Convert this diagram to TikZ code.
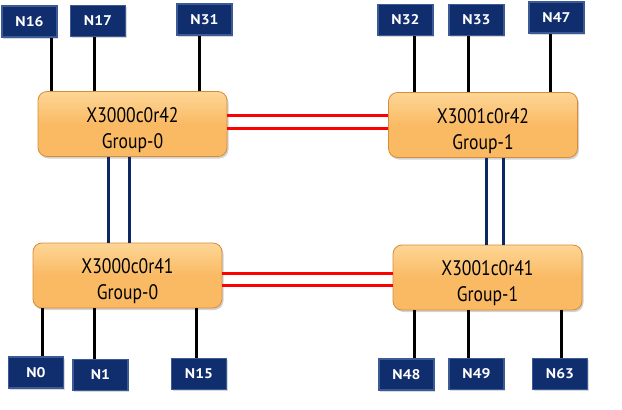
\documentclass[tikz,border=0pt]{standalone}
\usepackage{fontspec}
\setmainfont{PT Sans}
\newfontfamily\routerfont[FakeStretch=0.84]{PT Sans}
\newfontfamily\nodefont[FakeStretch=1.12]{PT Sans}
\usepackage{tikz}
\usetikzlibrary{calc, positioning, shadows}
\usepackage{xcolor}
\definecolor{routerFill}{RGB}{250, 186, 100}
\definecolor{routerTop}{RGB}{253, 214, 150}
\definecolor{routerEdge}{RGB}{215, 140, 55}
\definecolor{nodeFill}{RGB}{16, 45, 110}
\definecolor{nodeEdge}{RGB}{60, 90, 150}
\definecolor{globalLink}{RGB}{255, 0, 0}
\definecolor{localLink}{RGB}{12, 40, 100}

\begin{document}
\begin{tikzpicture}[x=1pt, y=-1pt,
    router/.style={rectangle, rounded corners=9pt, minimum width=189pt, minimum height=65pt,
      top color=routerTop, bottom color=routerFill, middle color=routerFill,
      draw=routerEdge, line width=0.8pt, align=center, font=\routerfont\fontsize{21}{26}\selectfont,
      text height=50pt, text depth=2pt,
      drop shadow={shadow xshift=1.5pt, shadow yshift=-2pt, opacity=0.35}},
    computenode/.style={rectangle, minimum width=55pt, minimum height=31pt, fill=nodeFill,
      draw=nodeEdge, line width=1.6pt, text=white, font=\nodefont\fontsize{14}{16}\selectfont\bfseries,
      drop shadow={shadow xshift=1pt, shadow yshift=-1.5pt, opacity=0.3}},
    nodelink/.style={line width=3pt, black},
    glink/.style={line width=3pt, globalLink},
    llink/.style={line width=3pt, localLink}]
  \useasboundingbox (0, 0) rectangle (622, 410);

  % Heights of the paired links
  \coordinate (r42a) at (0, 115);
  \coordinate (r42b) at (0, 128);
  \coordinate (r41a) at (0, 273);
  \coordinate (r41b) at (0, 285);

  % Routers
  \node[router] (x3000r42) at (132.5, 124) {X3000c0r42\\Group-0};
  \node[router] (x3001r42) at (483, 125) {X3001c0r42\\Group-1};
  \node[router] (x3000r41) at (127.5, 275.5) {X3000c0r41\\Group-0};
  \node[router] (x3001r41) at (487.5, 277.5) {X3001c0r41\\Group-1};

  % Global links between the groups
  \draw[glink] (x3000r42.east |- r42a) -- (x3001r42.west |- r42a);
  \draw[glink] (x3000r42.east |- r42b) -- (x3001r42.west |- r42b);
  \draw[glink] (x3000r41.east |- r41a) -- (x3001r41.west |- r41a);
  \draw[glink] (x3000r41.east |- r41b) -- (x3001r41.west |- r41b);

  % Local links inside a group
  \foreach \lx in {108.5, 129} {
    \draw[llink] (x3000r42.south -| \lx, 0) -- (x3000r41.north -| \lx, 0);
  }
  \foreach \lx in {486, 503} {
    \draw[llink] (x3001r42.south -| \lx, 0) -- (x3001r41.north -| \lx, 0);
  }

  % Compute nodes, top row
  \node[computenode] (n16) at (29.5, 21.5) {N16};
  \node[computenode] (n17) at (98, 21) {N17};
  \node[computenode] (n31) at (204.5, 19.5) {N31};
  \node[computenode] (n32) at (405.5, 20) {N32};
  \node[computenode] (n33) at (476.5, 20) {N33};
  \node[computenode] (n47) at (556.5, 17.5) {N47};

  % Compute nodes, bottom row
  \node[computenode] (n0) at (36, 372.5) {N0};
  \node[computenode] (n1) at (100.5, 375) {N1};
  \node[computenode] (n15) at (199, 374) {N15};
  \node[computenode] (n48) at (406.5, 374.5) {N48};
  \node[computenode] (n49) at (476.5, 374) {N49};
  \node[computenode] (n63) at (560, 374) {N63};

  % Node links
  \foreach \n/\sw/\lx in {n16/x3000r42/51, n17/x3000r42/94, n31/x3000r42/199,
                          n32/x3001r42/414, n33/x3001r42/468, n47/x3001r42/550} {
    \draw[nodelink] (\n.south -| \lx, 0) -- (\sw.north -| \lx, 0);
  }
  \foreach \n/\sw/\lx in {n0/x3000r41/42, n1/x3000r41/94, n15/x3000r41/196,
                          n48/x3001r41/414, n49/x3001r41/468, n63/x3001r41/561} {
    \draw[nodelink] (\sw.south -| \lx, 0) -- (\n.north -| \lx, 0);
  }
\end{tikzpicture}
\end{document}
